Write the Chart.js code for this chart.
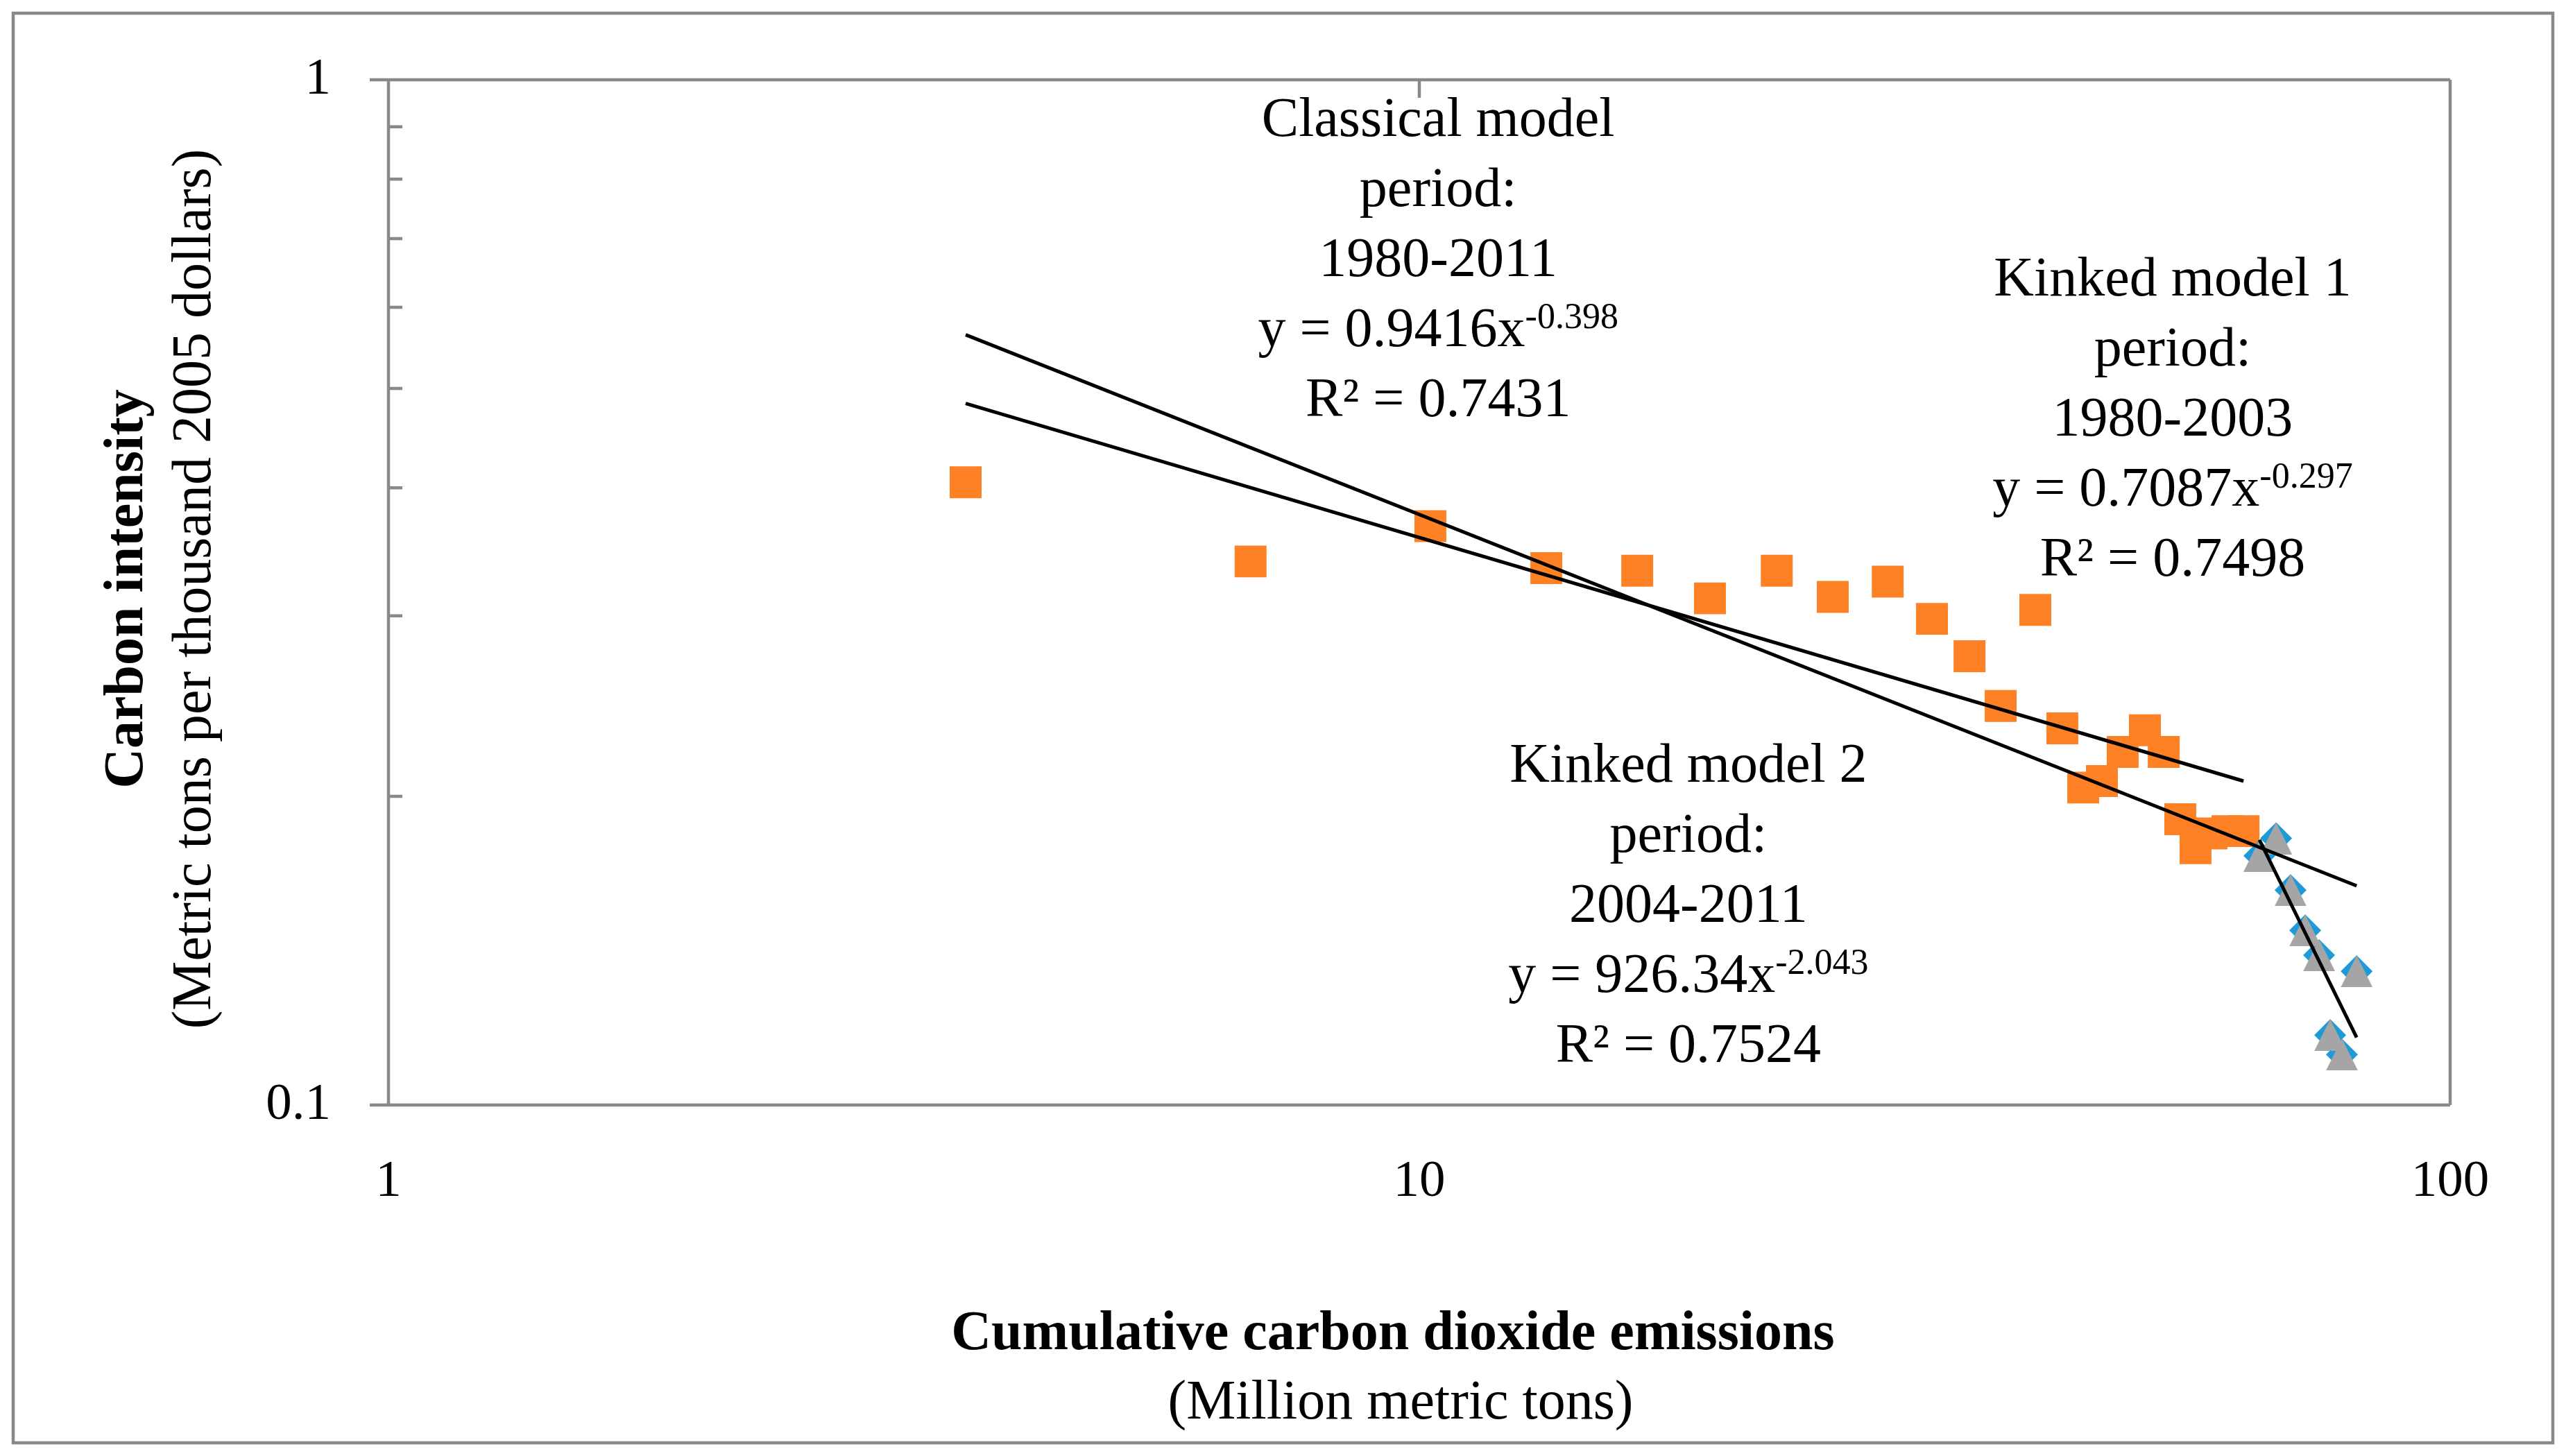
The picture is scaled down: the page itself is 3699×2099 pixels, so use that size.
<!DOCTYPE html>
<html>
<head>
<meta charset="utf-8">
<script src="https://cdn.jsdelivr.net/npm/chart.js@4.4.1/dist/chart.umd.min.js"></script>
<style>
  html, body { margin: 0; padding: 0; background: #fff; }
  canvas { display: block; }
</style>
</head>
<body>
<canvas id="chart" width="3699" height="2099"></canvas>
<script>
// 1980-2003 (orange squares)
const squaresX = [3.63, 6.86, 10.25, 13.28, 16.27, 19.14, 22.22, 25.18, 28.47, 31.43, 34.18, 36.64,
                  39.59, 42.05, 44.06, 45.94, 48.12, 50.57, 52.74, 54.73, 56.62, 58.68, 60.81, 63.03];
const squaresY = [0.405, 0.339, 0.367, 0.334, 0.332, 0.312, 0.332, 0.313, 0.324, 0.298, 0.274, 0.245,
                  0.304, 0.233, 0.204, 0.207, 0.221, 0.232, 0.221, 0.190, 0.178, 0.184, 0.185, 0.185];
// 2004-2011 (triangles)
const trianglesX = [65.31, 67.79, 70.01, 72.34, 74.62, 76.49, 78.52, 81.15];
const trianglesY = [0.175, 0.182, 0.162, 0.148, 0.140, 0.117, 0.112, 0.135];

// trend line ends, as drawn
const classicalX = [3.63, 81.15];
const classicalY = [0.564, 0.1636];
const kinked1X = [3.63, 63.03];
const kinked1Y = [0.4834, 0.207];
const kinked2X = [65.31, 81.15];
const kinked2Y = [0.1814, 0.1164];

const xTickLabels = [1, 10, 100];
const yTickLabels = [0.1, 1];
const yMinorTicks = [0.2, 0.3, 0.4, 0.5, 0.6, 0.7, 0.8, 0.9];

const notes = [
  { x: 10.43, y: 0.8814, lines: ['Classical model', 'period:', '1980-2011', ['y = 0.9416x', '-0.398'], 'R\u00B2 = 0.7431'] },
  { x: 53.8, y: 0.6161, lines: ['Kinked model 1', 'period:', '1980-2003', ['y = 0.7087x', '-0.297'], 'R\u00B2 = 0.7498'] },
  { x: 18.24, y: 0.2067, lines: ['Kinked model 2', 'period:', '2004-2011', ['y = 926.34x', '-2.043'], 'R\u00B2 = 0.7524'] }
];

const FONT = "'Liberation Serif', 'Times New Roman', serif";
const GREY = '#898989';

function pts(xs, ys) {
    return xs.map((v, i) => ({ x: v, y: ys[i] }));
}

// gray triangle marker, centred on the point
const tri = document.createElement('canvas');
tri.width = 46; tri.height = 46;
(function () {
    const c = tri.getContext('2d');
    c.fillStyle = '#A5A5A5';
    c.beginPath();
    c.moveTo(23, 0); c.lineTo(46, 46); c.lineTo(0, 46);
    c.closePath();
    c.fill();
})();

const framePlugin = {
    id: 'frame',
    beforeDatasetsDraw(chart) {
        const { ctx, chartArea: a, scales: { x, y } } = chart;
        ctx.save();
        ctx.strokeStyle = GREY;
        ctx.lineWidth = 4.5;
        ctx.strokeRect(19, 19, chart.width - 38, chart.height - 38);
        ctx.beginPath();
        yTickLabels.forEach(v => {
            const py = y.getPixelForValue(v);
            ctx.moveTo(a.left - 27, py); ctx.lineTo(a.right, py);
        });
        ctx.moveTo(a.left, a.top); ctx.lineTo(a.left, a.bottom);
        ctx.moveTo(a.right, a.top); ctx.lineTo(a.right, a.bottom);
        yMinorTicks.forEach(v => {
            const py = y.getPixelForValue(v);
            ctx.moveTo(a.left, py); ctx.lineTo(a.left + 20, py);
        });
        xTickLabels.forEach(v => {
            const px = x.getPixelForValue(v);
            ctx.moveTo(px, a.top); ctx.lineTo(px, a.top + 26);
        });
        ctx.stroke();
        ctx.restore();
    }
};

const textPlugin = {
    id: 'texts',
    afterDraw(chart) {
        const { ctx, chartArea: a, scales: { x, y } } = chart;
        ctx.save();
        ctx.fillStyle = '#000';
        ctx.textBaseline = 'alphabetic';

        // annotations
        notes.forEach(n => {
            const cx = x.getPixelForValue(n.x);
            let by = y.getPixelForValue(n.y);
            n.lines.forEach(line => {
                if (Array.isArray(line)) {
                    ctx.font = '80px ' + FONT;
                    const w1 = ctx.measureText(line[0]).width;
                    ctx.font = '52px ' + FONT;
                    const w2 = ctx.measureText(line[1]).width;
                    const x0 = cx - (w1 + w2) / 2;
                    ctx.textAlign = 'left';
                    ctx.font = '80px ' + FONT;
                    ctx.fillText(line[0], x0, by);
                    ctx.font = '52px ' + FONT;
                    ctx.fillText(line[1], x0 + w1, by - 26);
                } else {
                    ctx.textAlign = 'center';
                    ctx.font = '80px ' + FONT;
                    ctx.fillText(line, cx, by);
                }
                by += 101;
            });
        });

        // x axis title
        const mx = (a.left + a.right) / 2 - 38;
        ctx.textAlign = 'center';
        ctx.font = 'bold 80px ' + FONT;
        ctx.fillText('Cumulative carbon dioxide emissions', mx, a.bottom + 352);
        ctx.font = '80px ' + FONT;
        ctx.fillText('(Million metric tons)', mx + 11, a.bottom + 452);

        // y axis title
        const my = (a.top + a.bottom) / 2 - 5;
        ctx.save();
        ctx.translate(205, my);
        ctx.rotate(-Math.PI / 2);
        ctx.font = 'bold 80px ' + FONT;
        ctx.fillText('Carbon intensity', 0, 0);
        ctx.restore();
        ctx.save();
        ctx.translate(303, my);
        ctx.rotate(-Math.PI / 2);
        ctx.font = '80px ' + FONT;
        ctx.fillText('(Metric tons per thousand 2005 dollars)', 0, 0);
        ctx.restore();

        ctx.restore();
    }
};

new Chart(document.getElementById('chart').getContext('2d'), {
    type: 'scatter',
    data: {
        datasets: [
            { data: pts(classicalX, classicalY), showLine: true, borderColor: '#000', borderWidth: 5, pointRadius: 0, order: 0 },
            { data: pts(kinked1X, kinked1Y), showLine: true, borderColor: '#000', borderWidth: 5, pointRadius: 0, order: 0 },
            { data: pts(kinked2X, kinked2Y), showLine: true, borderColor: '#000', borderWidth: 5, pointRadius: 0, order: 0 },
            { data: pts(trianglesX, trianglesY), pointStyle: tri, pointRadius: 23, pointBorderWidth: 0, order: 1 },
            { data: pts(trianglesX, trianglesY), pointStyle: 'rectRot', pointRadius: 23, pointBorderWidth: 0,
              backgroundColor: '#1E9BD7', order: 2 },
            { data: pts(squaresX, squaresY), pointStyle: 'rect', pointRadius: 32.5, pointBorderWidth: 0,
              backgroundColor: '#FE8126', order: 3 }
        ]
    },
    options: {
        responsive: false,
        devicePixelRatio: 1,
        animation: false,
        events: [],
        layout: { autoPadding: false, padding: { left: 20, right: 167, top: 115, bottom: 20 } },
        plugins: { legend: { display: false }, tooltip: { enabled: false } },
        scales: {
            x: {
                type: 'logarithmic',
                min: 1, max: 100,
                // tick marks are drawn by the frame plugin; tickLength only spaces the labels
                grid: { display: false, drawTicks: true, tickLength: 63 },
                border: { display: false },
                afterFit: s => { s.height = 486; },
                ticks: {
                    autoSkip: false, maxRotation: 0, padding: 3,
                    color: '#000', font: { family: FONT, size: 75 },
                    callback: v => xTickLabels.includes(v) ? String(v) : ''
                }
            },
            y: {
                type: 'logarithmic',
                min: 0.1, max: 1,
                grid: { display: false, drawTicks: true, tickLength: 80 },
                border: { display: false },
                afterFit: s => { s.width = 540; },
                ticks: {
                    autoSkip: false, padding: 3,
                    color: '#000', font: { family: FONT, size: 75 },
                    callback: v => yTickLabels.includes(v) ? String(v) : ''
                }
            }
        }
    },
    plugins: [framePlugin, textPlugin]
});
</script>
</body>
</html>
